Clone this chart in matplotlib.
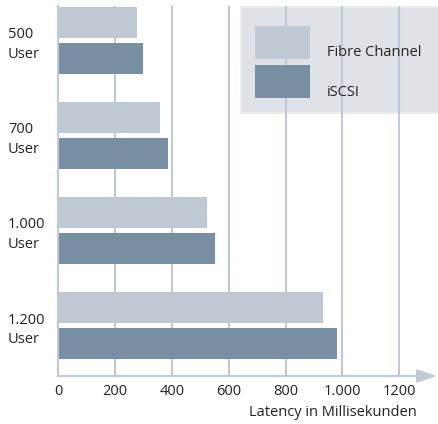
import matplotlib
matplotlib.use("Agg")
import matplotlib.pyplot as plt
from matplotlib.patches import Rectangle

# Data
groups = ["500\nUser", "700\nUser", "1.000\nUser", "1.200\nUser"]
fibre_channel = [278, 359, 524, 933]
iscsi = [299, 387, 553, 979]
xticks = [0, 200, 400, 600, 800, 1000, 1200]
xtick_labels = ["0", "200", "400", "600", "800", "1.000", "1200"]
series_names = ["Fibre Channel", "iSCSI"]

c_fc = "#bfc9d3"
c_is = "#778ea3"
c_grid = "#c1cad4"
c_box = "#dfe3e8"
c_text = "#222222"

plt.rcParams["font.family"] = ["Open Sans", "DejaVu Sans"]
plt.rcParams["font.size"] = 10.5

W, H = 438, 424
fig = plt.figure(figsize=(W / 100, H / 100), dpi=100)

# axes placed in pixel terms (left 58, top 6, right 437, bottom 376)
L, T, R, B = 58, 6, 437, 376
ax = fig.add_axes([L / W, (H - B) / H, (R - L) / W, (B - T) / H])

pos = list(range(len(groups)))
off = 0.19
hgt = 0.325
ax.barh([p - off for p in pos], fibre_channel, height=hgt, color=c_fc, zorder=2)
ax.barh([p + off for p in pos], iscsi, height=hgt, color=c_is, zorder=2)

ax.set_xlim(0, (R - L) / 0.2845)
ax.set_ylim(3.53, -0.36)

ax.set_xticks(xticks)
ax.set_xticklabels(xtick_labels, color=c_text)
ax.set_yticks(pos)
ax.set_yticklabels(groups, color=c_text, linespacing=1.4)
for lab in ax.get_yticklabels():
    lab.set_horizontalalignment("left")
ax.tick_params(axis="y", length=0, pad=36)
ax.tick_params(axis="x", length=0, pad=6)

ax.set_axisbelow(True)
ax.xaxis.grid(True, color=c_grid, linewidth=1.5)
ax.yaxis.grid(False)

for s in ["top", "right", "bottom"]:
    ax.spines[s].set_visible(False)
ax.spines["left"].set_color(c_grid)
ax.spines["left"].set_linewidth(1.5)

# x axis with arrow head
ax.annotate("", xy=(1.0, 0), xytext=(0, 0), xycoords="axes fraction",
            arrowprops=dict(arrowstyle="-|>,head_length=12,head_width=4",
                            mutation_scale=1, color=c_grid, lw=1.5,
                            shrinkA=0, shrinkB=0),
            annotation_clip=False)

fig.text(417 / W, 1 - 413 / H, "Latency in Millisekunden", ha="right",
         va="center", color=c_text)


def px(x, y, w, h):
    return (x / W, 1 - (y + h) / H), w / W, h / H


# legend box
xy, w, h = px(241, 7, 200, 106)
ax.add_patch(Rectangle(xy, w, h, transform=fig.transFigure, clip_on=False,
                       facecolor=c_box, edgecolor="#e9ecef", linewidth=1.5,
                       zorder=0.3))
for i, (name, col) in enumerate(zip(series_names, [c_fc, c_is])):
    y0 = 26 + i * 39
    xy, w, h = px(255, y0, 55, 33)
    ax.add_patch(Rectangle(xy, w, h, transform=fig.transFigure, clip_on=False,
                           facecolor=col, edgecolor="none", zorder=3))
    fig.text(327 / W, 1 - (y0 + 27) / H, name, ha="left", va="center",
             color=c_text)

fig.savefig("out.png", dpi=100)
